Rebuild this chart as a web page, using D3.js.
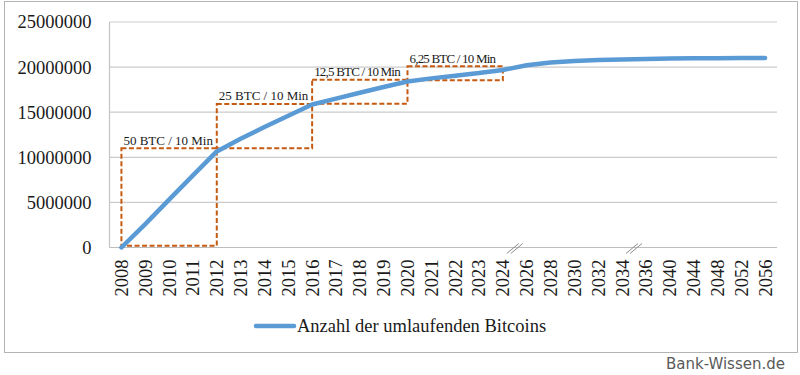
<!DOCTYPE html>
<html>
<head>
<meta charset="utf-8">
<script src="https://cdn.jsdelivr.net/npm/d3@7"></script>
<style>
  body { margin: 0; background: #fff; }
  svg { display: block; }
  text { font-family: "Liberation Serif", "Times New Roman", serif; fill: #1a1a1a; }
</style>
</head>
<body>
<svg id="chart" width="800" height="375"></svg>
<script>
// years on the x axis (not evenly spaced after 2024)
const years = ["2008","2009","2010","2011","2012","2013","2014","2015","2016","2017","2018","2019","2020",
  "2021","2022","2023","2024","2026","2028","2030","2032","2034","2036","2040","2044","2048","2052","2056"];
// bitcoins in circulation
const supply = [0, 2600000, 5300000, 8000000, 10650000, 12050000, 13350000, 14600000, 15850000, 16500000,
  17150000, 17800000, 18400000, 18750000, 19050000, 19350000, 19680000, 20200000, 20500000, 20670000,
  20780000, 20850000, 20900000, 20950000, 20980000, 20990000, 21000000, 21000000];
const yTicks = [0, 5000000, 10000000, 15000000, 20000000, 25000000];
// halving periods: from/to year, lower/upper value of the dashed box
const rewardLabels = ["50 BTC / 10 Min", "25 BTC / 10 Min", "12,5 BTC / 10 Min", "6,25 BTC / 10 Min"];
const rewardFrom = ["2008", "2012", "2016", "2020"];
const rewardTo = ["2012", "2016", "2020", "2024"];
const rewardLow = [200000, 11000000, 15950000, 18530000];
const rewardHigh = [11000000, 15910000, 18610000, 20090000];
// axis breaks come after these years
const breaks = ["2024", "2034"];
const seriesName = "Anzahl der umlaufenden Bitcoins";

const svg = d3.select("#chart");
const m = {left: 109.5, right: 777, top: 22, bottom: 247.5};

// outer frame
svg.append("rect")
  .attr("x", 4.5).attr("y", 1.5).attr("width", 793).attr("height", 351)
  .attr("fill", "#fff").attr("stroke", "#b4b4b4").attr("stroke-width", 1);

const x = d3.scaleBand().domain(years).range([m.left, m.right]).padding(0);
const cx = d => x(d) + x.bandwidth() / 2;
const y = d3.scaleLinear().domain([0, 25000000]).range([m.bottom, m.top]);

// gridlines
svg.append("g").selectAll("line")
  .data(yTicks.slice(1))
  .enter().append("line")
    .attr("x1", m.left).attr("x2", m.right)
    .attr("y1", d => y(d)).attr("y2", d => y(d))
    .attr("stroke", "#cbcbcb").attr("stroke-width", 1.2);

// axes lines
svg.append("line")
  .attr("x1", m.left).attr("x2", m.left).attr("y1", m.top).attr("y2", m.bottom)
  .attr("stroke", "#c4c4c4").attr("stroke-width", 1.2);
svg.append("line")
  .attr("x1", m.left).attr("x2", m.right).attr("y1", m.bottom).attr("y2", m.bottom)
  .attr("stroke", "#bdbdbd").attr("stroke-width", 1.2);

// y tick labels
svg.append("g").selectAll("text")
  .data(yTicks)
  .enter().append("text")
    .attr("x", m.left - 18)
    .attr("y", d => y(d))
    .attr("dy", "0.35em")
    .attr("text-anchor", "end")
    .style("font-size", "18.5px")
    .text(d => d);

// x tick labels, rotated
svg.append("g").selectAll("text")
  .data(years)
  .enter().append("text")
    .attr("transform", d => `translate(${cx(d)},${m.bottom + 12}) rotate(-90)`)
    .attr("dy", "0.35em")
    .attr("text-anchor", "end")
    .style("font-size", "18.5px")
    .text(d => d);

// break marks on the x axis
const brk = svg.append("g").selectAll("g")
  .data(breaks)
  .enter().append("g")
    .attr("transform", d => `translate(${x(d) + x.bandwidth()},${m.bottom})`);
[-2, 2].forEach(off => {
  brk.append("line")
    .attr("x1", off - 6).attr("y1", 6)
    .attr("x2", off + 6).attr("y2", -4)
    .attr("stroke", "#8c8c8c").attr("stroke-width", 1);
});

// dashed reward boxes
const boxes = svg.append("g").selectAll("g")
  .data(rewardLabels)
  .enter().append("g");

boxes.append("rect")
  .attr("x", (d, i) => cx(rewardFrom[i]))
  .attr("y", (d, i) => y(rewardHigh[i]))
  .attr("width", (d, i) => cx(rewardTo[i]) - cx(rewardFrom[i]))
  .attr("height", (d, i) => y(rewardLow[i]) - y(rewardHigh[i]))
  .attr("fill", "none")
  .attr("stroke", "#c55a11")
  .attr("stroke-width", 2)
  .attr("stroke-dasharray", "5,2.5");

boxes.append("text")
  .attr("x", (d, i) => cx(rewardFrom[i]) + 2)
  .attr("y", (d, i) => y(rewardHigh[i]) - 3.5)
  .style("font-size", "13px")
  .style("letter-spacing", (d, i) => i > 1 ? "-0.8px" : "0px")
  .text(d => d);

// supply line
const line = d3.line()
  .x((d, i) => cx(years[i]))
  .y(d => y(d));

svg.append("path")
  .datum(supply)
  .attr("d", line)
  .attr("fill", "none")
  .attr("stroke", "#5b9bd5")
  .attr("stroke-width", 4.5)
  .attr("stroke-linejoin", "round")
  .attr("stroke-linecap", "round");

// legend
const legend = svg.append("g").attr("transform", "translate(256,326)");
legend.append("line")
  .attr("x1", 0).attr("x2", 38).attr("y1", 0).attr("y2", 0)
  .attr("stroke", "#5b9bd5").attr("stroke-width", 4.5).attr("stroke-linecap", "round");
legend.append("text")
  .attr("x", 41).attr("y", 6)
  .style("font-size", "18.5px")
  .text(seriesName);

// watermark
svg.append("text")
  .attr("x", 785).attr("y", 369)
  .attr("text-anchor", "end")
  .style("font-family", "DejaVu Sans, sans-serif")
  .style("font-size", "15px")
  .style("fill", "#5a5a5a")
  .text("Bank-Wissen.de");
</script>
</body>
</html>
